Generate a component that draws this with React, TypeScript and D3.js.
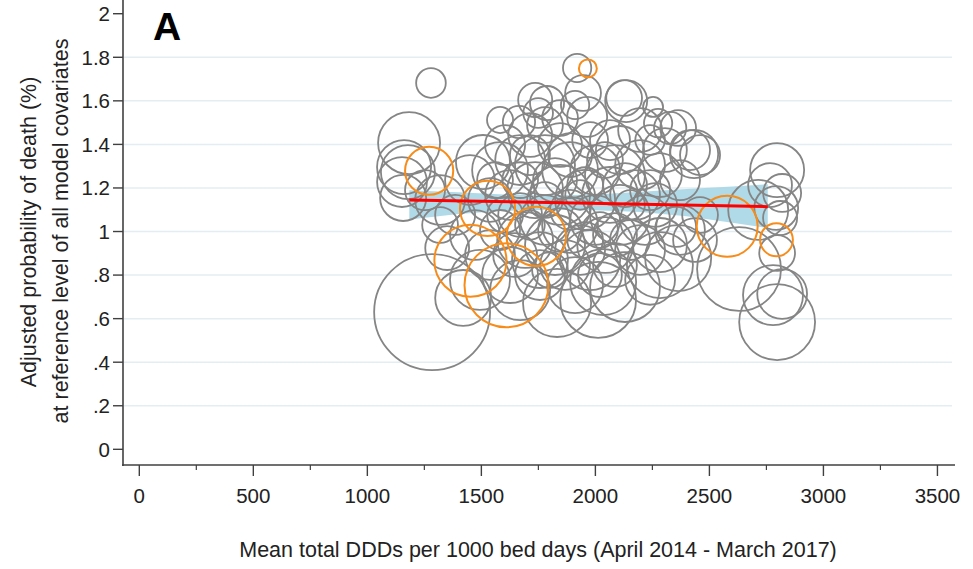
import React, { useEffect, useRef } from 'react';
import * as d3 from 'd3';

// Trusts (grey): mean total DDDs, adjusted probability of death, weight (admissions, thousands)
const trustDDD = [
  1279, 1183, 1161, 1178, 1152, 1157, 1253, 1319, 1385, 1450,
  1507, 1284, 1420, 1350, 1472, 1319, 1920, 1946, 1736, 1788,
  1749, 1665, 1582, 1845, 1964, 2135, 2126, 2253, 2275, 2328,
  2363, 2433, 2415, 2196, 2064, 2108, 1714, 1604, 1845, 1977,
  1582, 1670, 1779, 1889, 1999, 2086, 2196, 2283, 2371, 1626,
  1736, 1845, 1955, 2064, 2174, 2262, 1670, 1779, 1889, 1999,
  2108, 2218, 1582, 1692, 1823, 1933, 2043, 2152, 2283, 2371,
  2354, 1538, 1648, 1757, 1867, 1977, 2086, 1779, 1889, 2020,
  1713, 1823, 1955, 2130, 2240, 1670, 1538, 1626, 2459, 2437,
  1494, 1670, 1832, 2034, 2130, 2012, 2283, 2363, 2630, 1757,
  1911, 2240, 2797, 2766, 2819, 2714, 2793, 2810, 2797, 2779,
  2819, 2797, 1713, 1889, 2042, 1845, 1955, 2086, 2196, 1604,
  1801, 2020, 2305, 2459, 2240, 1779, 1911, 2152, 1933, 1560,
];
const trustProb = [
  1.682, 1.406, 1.296, 1.273, 1.227, 1.154, 1.19, 1.145, 1.076, 1.236,
  1.319, 0.63, 0.695, 0.924, 0.984, 1.03, 1.751, 1.636, 1.604, 1.59,
  1.544, 1.503, 1.512, 1.521, 1.526, 1.599, 1.613, 1.572, 1.498, 1.475,
  1.475, 1.356, 1.374, 1.466, 1.42, 1.374, 1.443, 1.397, 1.397, 1.42,
  1.282, 1.328, 1.305, 1.282, 1.282, 1.259, 1.305, 1.259, 1.236, 1.168,
  1.19, 1.168, 1.145, 1.168, 1.168, 1.122, 1.076, 1.053, 1.03, 1.053,
  1.076, 1.053, 1.007, 0.961, 0.938, 0.915, 0.938, 0.961, 0.938, 1.007,
  1.021, 1.145, 0.892, 0.869, 0.846, 0.869, 0.846, 1.145, 1.099, 1.007,
  1.03, 1.236, 1.213, 1.213, 1.19, 1.236, 0.892, 0.8, 1.076, 0.961,
  0.778, 0.731, 0.672, 0.768, 0.745, 0.686, 0.846, 0.878, 0.828, 0.8,
  0.754, 0.778, 1.282, 1.213, 1.177, 1.099, 1.108, 1.062, 0.901, 0.708,
  0.713, 0.584, 1.351, 1.351, 1.328, 1.007, 0.961, 0.984, 0.915, 1.076,
  0.823, 0.8, 1.374, 1.351, 1.42, 1.489, 1.581, 1.122, 1.168, 1.236,
];
const trustWeight = [
  22, 96, 73, 73, 62, 53, 40, 62, 40, 62,
  73, 336, 78, 48, 62, 32, 20, 32, 29, 29,
  22, 26, 17, 32, 40, 44, 32, 10, 20, 26,
  32, 58, 40, 48, 40, 58, 48, 40, 48, 32,
  78, 62, 90, 78, 62, 90, 62, 48, 40, 62,
  78, 90, 90, 78, 62, 48, 48, 62, 78, 62,
  90, 62, 40, 78, 90, 62, 78, 40, 73, 62,
  40, 48, 48, 78, 62, 90, 48, 32, 40, 32,
  22, 48, 32, 48, 40, 32, 62, 78, 32, 48,
  90, 90, 116, 109, 122, 144, 109, 109, 176, 62,
  78, 62, 73, 48, 36, 90, 48, 29, 32, 90,
  62, 144, 40, 48, 32, 48, 32, 48, 62, 32,
  32, 48, 48, 40, 22, 32, 20, 22, 22, 32,
];

// Highlighted trusts (orange)
const highlightDDD = [1967, 1271, 1527, 1741, 1452, 1610, 2578, 2794];
const highlightProb = [1.749, 1.279, 1.106, 0.978, 0.866, 0.753, 1.024, 0.962];
const highlightWeight = [8, 58, 76, 88, 130, 176, 93, 27];

// Fitted line and its confidence band
const fitDDD = [1184, 2756];
const fitProb = [1.145, 1.114];
const bandDDD = [1184, 1400, 1600, 1800, 2000, 2200, 2400, 2600, 2756];
const bandLow = [1.055, 1.08, 1.095, 1.1, 1.098, 1.09, 1.07, 1.04, 1.016];
const bandHigh = [1.19, 1.18, 1.17, 1.165, 1.17, 1.183, 1.195, 1.207, 1.217];

const yTicks = [0, 0.2, 0.4, 0.6, 0.8, 1, 1.2, 1.4, 1.6, 1.8, 2];
const yTickLabels = ['0', '.2', '.4', '.6', '.8', '1', '1.2', '1.4', '1.6', '1.8', '2'];
const xTicks = [0, 500, 1000, 1500, 2000, 2500, 3000, 3500];
const xMinorTicks = [250, 750, 1250, 1750, 2250, 2750, 3250];

const App = () => {
  const ref = useRef<SVGSVGElement>(null);
  const width = 973;
  const height = 569;

  useEffect(() => {
    const svg = d3.select(ref.current);
    svg.selectAll('*').remove();

    const font = 'Arial, "Liberation Sans", sans-serif';
    const axisColor = '#404040';

    const x = d3.scaleLinear().domain([-71.5, 3577]).range([123, 955]);
    const y = d3.scaleLinear().domain([-0.072, 2.063]).range([465, 0]);
    const r = d3.scaleSqrt().domain([0, 360]).range([0, 60]);

    // Gridlines
    svg.append('g')
      .selectAll('line')
      .data(yTicks.filter(d => d > 0 && d < 2))
      .join('line')
      .attr('x1', 124)
      .attr('x2', 952)
      .attr('y1', d => y(d))
      .attr('y2', d => y(d))
      .attr('stroke', '#e4eef2')
      .attr('stroke-width', 1.5);

    // Confidence band
    const band = d3.area<number>()
      .x((_, i) => x(bandDDD[i]))
      .y0((_, i) => y(bandLow[i]))
      .y1((_, i) => y(bandHigh[i]));
    svg.append('path')
      .attr('d', band(bandDDD))
      .attr('fill', '#a9d6e5')
      .attr('opacity', 0.9);

    // Grey bubbles
    svg.append('g')
      .selectAll('circle')
      .data(trustDDD.map((d, i) => ({ x: d, y: trustProb[i], w: trustWeight[i] })))
      .join('circle')
      .attr('cx', d => x(d.x))
      .attr('cy', d => y(d.y))
      .attr('r', d => r(d.w))
      .attr('fill', 'none')
      .attr('stroke', '#858585')
      .attr('stroke-width', 1.8);

    // Orange bubbles
    svg.append('g')
      .selectAll('circle')
      .data(highlightDDD.map((d, i) => ({ x: d, y: highlightProb[i], w: highlightWeight[i] })))
      .join('circle')
      .attr('cx', d => x(d.x))
      .attr('cy', d => y(d.y))
      .attr('r', d => r(d.w))
      .attr('fill', 'none')
      .attr('stroke', '#f78c1a')
      .attr('stroke-width', 2);

    // Fit line
    svg.append('line')
      .attr('x1', x(fitDDD[0]))
      .attr('x2', x(fitDDD[1]))
      .attr('y1', y(fitProb[0]))
      .attr('y2', y(fitProb[1]))
      .attr('stroke', '#ff0000')
      .attr('stroke-width', 3);

    // Y axis
    const yAxis = svg.append('g');
    yAxis.append('line')
      .attr('x1', 123).attr('x2', 123)
      .attr('y1', 0).attr('y2', 466)
      .attr('stroke', axisColor).attr('stroke-width', 1.6);
    yAxis.selectAll('.tick')
      .data(yTicks)
      .join('line')
      .attr('x1', 113).attr('x2', 123)
      .attr('y1', d => y(d)).attr('y2', d => y(d))
      .attr('stroke', axisColor).attr('stroke-width', 1.4);
    yAxis.selectAll('text')
      .data(yTicks)
      .join('text')
      .attr('x', 110)
      .attr('y', d => y(d))
      .attr('dy', '0.36em')
      .attr('text-anchor', 'end')
      .attr('font-family', font)
      .attr('font-size', 20.5)
      .attr('fill', '#222')
      .text((_, i) => yTickLabels[i]);

    // X axis
    const xAxis = svg.append('g');
    xAxis.append('line')
      .attr('x1', 122).attr('x2', 955)
      .attr('y1', 465).attr('y2', 465)
      .attr('stroke', axisColor).attr('stroke-width', 1.6);
    xAxis.selectAll('.major')
      .data(xTicks)
      .join('line')
      .attr('x1', d => x(d)).attr('x2', d => x(d))
      .attr('y1', 465).attr('y2', 476)
      .attr('stroke', axisColor).attr('stroke-width', 1.4);
    xAxis.selectAll('.minor')
      .data(xMinorTicks)
      .join('line')
      .attr('x1', d => x(d)).attr('x2', d => x(d))
      .attr('y1', 465).attr('y2', 470)
      .attr('stroke', axisColor).attr('stroke-width', 1.2);
    xAxis.selectAll('text')
      .data(xTicks)
      .join('text')
      .attr('x', d => x(d))
      .attr('y', 503)
      .attr('text-anchor', 'middle')
      .attr('font-family', font)
      .attr('font-size', 20.5)
      .attr('fill', '#222')
      .text(d => String(d));

    // Axis titles
    svg.append('text')
      .attr('transform', 'translate(36,232) rotate(-90)')
      .attr('text-anchor', 'middle')
      .attr('font-family', font)
      .attr('font-size', 21.5)
      .attr('fill', '#222')
      .text('Adjusted probability of death (%)');
    svg.append('text')
      .attr('transform', 'translate(68,231) rotate(-90)')
      .attr('text-anchor', 'middle')
      .attr('font-family', font)
      .attr('font-size', 21.5)
      .attr('fill', '#222')
      .text('at reference level of all model covariates');
    svg.append('text')
      .attr('x', 538)
      .attr('y', 557)
      .attr('text-anchor', 'middle')
      .attr('font-family', font)
      .attr('font-size', 21.5)
      .attr('fill', '#222')
      .text('Mean total DDDs per 1000 bed days (April 2014 - March 2017)');

    // Panel letter
    svg.append('text')
      .attr('x', 153)
      .attr('y', 40)
      .attr('font-family', font)
      .attr('font-weight', 'bold')
      .attr('font-size', 39)
      .attr('fill', '#000')
      .text('A');
  }, []);

  return (
    <svg
      ref={ref}
      width={width}
      height={height}
      style={{ position: 'absolute', left: 0, top: 0, background: '#fff' }}
    />
  );
};

export default App;
